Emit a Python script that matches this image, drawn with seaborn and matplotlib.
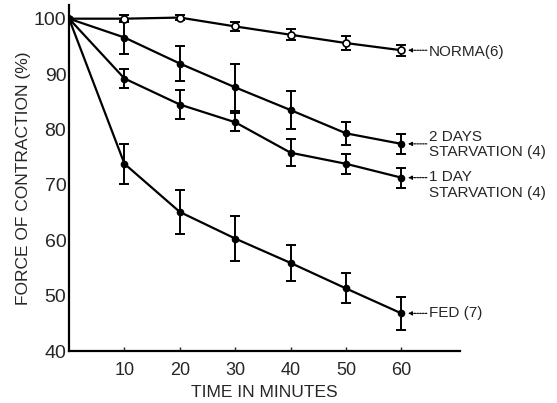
import matplotlib
matplotlib.use("Agg")
import matplotlib.pyplot as plt
import seaborn as sns
import pandas as pd
import numpy as np

minutes = [0, 10, 20, 30, 40, 50, 60]
normal = [100, 100, 100.2, 98.6, 97.1, 95.6, 94.3]
normal_err = [0, 0.6, 0.5, 0.8, 1.0, 1.2, 1.0]
days2 = [100, 96.6, 91.9, 87.6, 83.5, 79.3, 77.4]
days2_err = [0, 3.0, 3.2, 4.3, 3.5, 2.1, 1.8]
day1 = [100, 89.2, 84.5, 81.3, 75.8, 73.8, 71.3]
day1_err = [0, 1.7, 2.6, 1.6, 2.4, 1.8, 1.8]
fed = [100, 73.8, 65.1, 60.3, 55.9, 51.3, 46.8]
fed_err = [0, 3.6, 4.0, 4.1, 3.3, 2.7, 3.0]

series_names = ["NORMA(6)", "2 DAYS", "1 DAY", "FED (7)"]
label_lines = [["NORMA(6)"], ["2 DAYS", "STARVATION (4)"], ["1 DAY", "STARVATION (4)"], ["FED (7)"]]
values = [normal, days2, day1, fed]
errors = [normal_err, days2_err, day1_err, fed_err]

sns.set_theme(style="ticks")
plt.rcParams['font.family'] = ['Liberation Sans', 'DejaVu Sans']

fig = plt.figure(figsize=(5.57, 4.03), dpi=100)
ax = fig.add_axes([0.124, 0.129, 0.702, 0.859])

rows = []
for name, vals in zip(series_names, values):
    for m, v in zip(minutes, vals):
        rows.append({"minutes": m, "force": v, "group": name})
df = pd.DataFrame(rows)

for name, vals, errs in zip(series_names, values, errors):
    sub = df[df["group"] == name]
    open_marker = name.startswith("NORMA")
    sns.lineplot(data=sub, x="minutes", y="force", ax=ax, color="black",
                 lw=1.6, marker="o", markersize=5 if open_marker else 4.3,
                 markerfacecolor="white" if open_marker else "black",
                 markeredgecolor="black", markeredgewidth=1.2, zorder=3,
                 legend=False)
    ax.errorbar(minutes[1:], vals[1:], yerr=errs[1:], fmt="none",
                ecolor="black", elinewidth=1.4, capsize=3.5, capthick=1.4,
                zorder=2)

# labels on the right
label_y = [[94.0], [78.6, 75.9], [71.4, 68.6], [46.8]]
for lines, ys, vals in zip(label_lines, label_y, values):
    for t, yy in zip(lines, ys):
        ax.text(65.0, yy, t, fontsize=11, va="center", ha="left",
                clip_on=False)
    ax.annotate("", xy=(61.2, vals[-1]), xytext=(64.6, vals[-1]),
                arrowprops=dict(arrowstyle="-|>", lw=0.8, ls=(0, (1.5, 1)),
                                color="black", mutation_scale=6,
                                shrinkA=0, shrinkB=0),
                annotation_clip=False)

ax.set_xlim(0, 70.6)
ax.set_ylim(40, 102.5)
ax.set_xticks([10, 20, 30, 40, 50, 60])
ax.set_yticks([40, 50, 60, 70, 80, 90, 100])
ax.tick_params(axis="x", direction="in", length=3, width=1, labelsize=13, pad=8)
ax.tick_params(axis="y", direction="in", length=0, labelsize=14, pad=2)
for s in ["top", "right"]:
    ax.spines[s].set_visible(False)
for s in ["left", "bottom"]:
    ax.spines[s].set_linewidth(1.6)
    ax.spines[s].set_color("black")
ax.set_xlabel("TIME IN MINUTES", fontsize=12.5, labelpad=4)
ax.set_ylabel("FORCE OF CONTRACTION (%)", fontsize=12.5, labelpad=2)

fig.savefig("out.png", dpi=100)
